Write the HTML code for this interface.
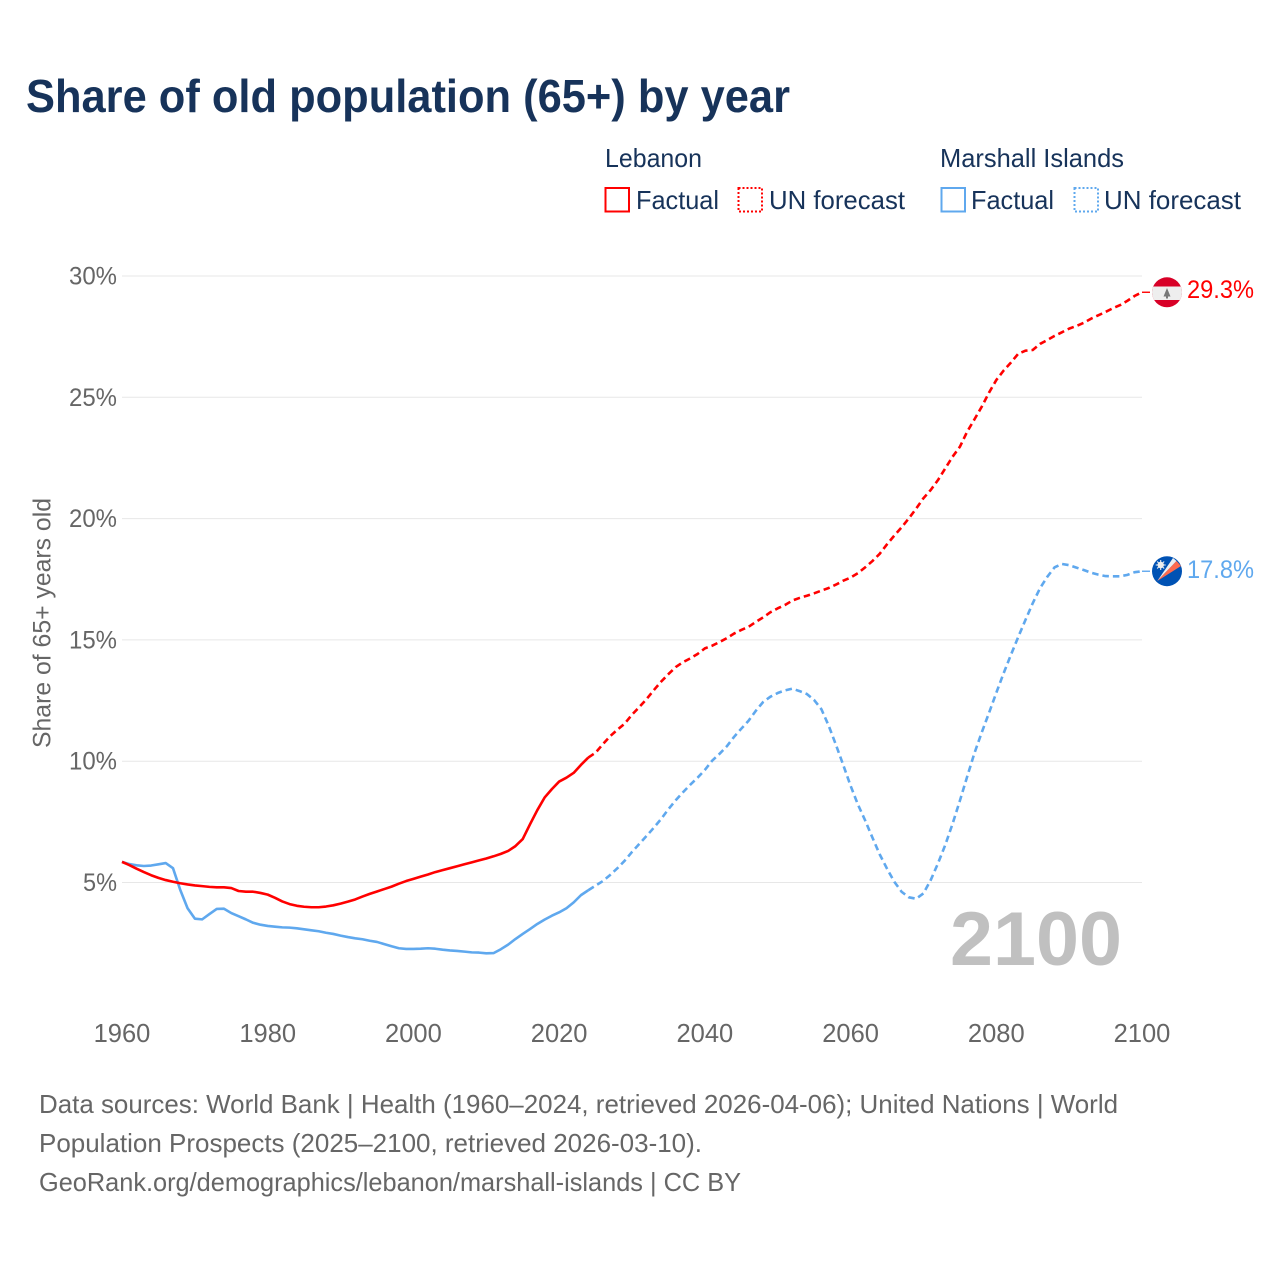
<!DOCTYPE html>
<html lang="en">
<head>
<meta charset="utf-8">
<title>Share of old population (65+) by year</title>
<style>
html,body{margin:0;padding:0;background:#fff;}
svg{display:block;}
text{font-family:"Liberation Sans",sans-serif;}
</style>
</head>
<body>
<svg id="chart" width="1280" height="1280" viewBox="0 0 1280 1280" xmlns="http://www.w3.org/2000/svg">
  <defs>
    <clipPath id="lb-clip"><circle cx="1167" cy="292.3" r="15"/></clipPath>
    <clipPath id="mh-clip"><circle cx="1167" cy="571.2" r="15"/></clipPath>
  </defs>
  <rect x="0" y="0" width="1280" height="1280" fill="#ffffff"/>

  <text x="26" y="112" font-size="46" font-weight="700" fill="#17335a" textLength="764" lengthAdjust="spacingAndGlyphs">Share of old population (65+) by year</text>

  <g font-size="26" fill="#17335a">
    <text x="605" y="167" textLength="97" lengthAdjust="spacingAndGlyphs">Lebanon</text>
    <rect x="605.5" y="188" width="23.5" height="23.5" fill="none" stroke="#ff0000" stroke-width="2"/>
    <text x="636" y="209" textLength="83" lengthAdjust="spacingAndGlyphs">Factual</text>
    <rect x="738.5" y="188" width="23.5" height="23.5" fill="none" stroke="#ff0000" stroke-width="2" stroke-dasharray="2 2"/>
    <text x="769" y="209" textLength="136" lengthAdjust="spacingAndGlyphs">UN forecast</text>
    <text x="940" y="167" textLength="184" lengthAdjust="spacingAndGlyphs">Marshall Islands</text>
    <rect x="941.5" y="188" width="23.5" height="23.5" fill="none" stroke="#5fa8ee" stroke-width="2"/>
    <text x="971" y="209" textLength="83" lengthAdjust="spacingAndGlyphs">Factual</text>
    <rect x="1074.5" y="188" width="23.5" height="23.5" fill="none" stroke="#5fa8ee" stroke-width="2" stroke-dasharray="2 2"/>
    <text x="1104" y="209" textLength="137" lengthAdjust="spacingAndGlyphs">UN forecast</text>
  </g>

  <g id="grid"></g>
  <g id="y-ticks" font-size="25" fill="#666666" text-anchor="end"></g>
  <g id="x-ticks" font-size="25.5" fill="#666666" text-anchor="middle"></g>

  <text transform="translate(50.5,748) rotate(-90)" font-size="25" fill="#666666" textLength="250" lengthAdjust="spacingAndGlyphs">Share of 65+ years old</text>

  <text x="950" y="965" font-size="76" font-weight="700" fill="#c0c0c0" textLength="172" lengthAdjust="spacingAndGlyphs">2100</text>

  <g id="series"></g>

  <g id="flag-lebanon" clip-path="url(#lb-clip)">
    <rect x="1150" y="275" width="34" height="36" fill="#d80027"/>
    <rect x="1150" y="286.5" width="34" height="13.5" fill="#eeeeee"/>
    <polygon points="1167,288 1170.5,296.5 1168,296.5 1168,298.5 1166,298.5 1166,296.5 1163.5,296.5" fill="#777777"/>
  </g>
  <g id="flag-marshall" clip-path="url(#mh-clip)">
    <rect x="1150" y="554" width="34" height="36" fill="#0052b4"/>
    <polygon points="1157.3,581 1173,558 1176.5,561" fill="#eeeeee"/>
    <polygon points="1157.3,581 1176.5,561 1181,566" fill="#ff6a4d"/>
    <circle cx="1160.7" cy="565" r="3.2" fill="#eeeeee"/>
    <path d="M1160.7 560v10M1155.7 565h10M1157.2 561.5l7 7M1164.2 561.5l-7 7" stroke="#eeeeee" stroke-width="1.1"/>
  </g>

  <g id="value-labels" font-size="25"></g>

  <g font-size="26" fill="#666666">
    <text x="39" y="1113" textLength="1079" lengthAdjust="spacingAndGlyphs">Data sources: World Bank | Health (1960–2024, retrieved 2026-04-06); United Nations | World</text>
    <text x="39" y="1152" textLength="663" lengthAdjust="spacingAndGlyphs">Population Prospects (2025–2100, retrieved 2026-03-10).</text>
    <text x="39" y="1191" textLength="702" lengthAdjust="spacingAndGlyphs">GeoRank.org/demographics/lebanon/marshall-islands | CC BY</text>
  </g>
</svg>
<script>
const factualStartYear = 1960;
const forecastStartYear = 2025;

const lebanonFactual = [5.85,5.72,5.57,5.43,5.30,5.19,5.10,5.03,4.97,4.92,4.88,4.85,4.82,4.80,4.80,4.77,4.65,4.62,4.62,4.57,4.50,4.37,4.22,4.11,4.04,4.00,3.98,3.98,4.01,4.06,4.13,4.21,4.30,4.42,4.53,4.63,4.73,4.83,4.95,5.06,5.15,5.24,5.33,5.43,5.51,5.59,5.67,5.75,5.83,5.91,5.99,6.08,6.18,6.30,6.50,6.79,7.40,7.98,8.50,8.85,9.16,9.32,9.52,9.85,10.15];

const lebanonForecast = [10.35,10.70,11.03,11.30,11.55,11.92,12.23,12.56,12.93,13.28,13.59,13.88,14.08,14.24,14.42,14.65,14.76,14.91,15.07,15.26,15.41,15.54,15.74,15.93,16.14,16.30,16.44,16.62,16.73,16.82,16.92,17.03,17.14,17.28,17.44,17.57,17.75,17.99,18.25,18.55,18.94,19.30,19.64,20.01,20.41,20.84,21.18,21.59,22.07,22.55,22.96,23.58,24.09,24.61,25.19,25.71,26.10,26.43,26.79,26.92,26.95,27.20,27.36,27.53,27.68,27.83,27.94,28.07,28.24,28.38,28.52,28.67,28.80,28.98,29.18,29.33];

const marshallFactual = [5.85,5.76,5.71,5.68,5.70,5.75,5.80,5.59,4.69,3.94,3.51,3.48,3.70,3.91,3.92,3.74,3.61,3.48,3.34,3.26,3.21,3.18,3.15,3.14,3.11,3.07,3.03,2.99,2.93,2.88,2.81,2.75,2.70,2.66,2.60,2.55,2.46,2.37,2.29,2.26,2.26,2.27,2.29,2.27,2.23,2.20,2.18,2.15,2.12,2.11,2.08,2.09,2.25,2.44,2.67,2.88,3.08,3.29,3.47,3.63,3.77,3.94,4.18,4.48,4.68];

const marshallForecast = [4.87,5.06,5.31,5.59,5.90,6.26,6.59,6.92,7.26,7.62,8.02,8.39,8.72,9.03,9.32,9.64,10.02,10.30,10.61,11.00,11.34,11.67,12.08,12.44,12.66,12.81,12.92,12.99,12.89,12.77,12.52,12.14,11.46,10.67,9.84,8.99,8.22,7.56,6.85,6.16,5.57,5.03,4.62,4.39,4.33,4.55,5.10,5.79,6.55,7.42,8.37,9.36,10.33,11.18,11.99,12.82,13.62,14.38,15.11,15.82,16.51,17.13,17.60,17.99,18.13,18.08,17.98,17.88,17.77,17.69,17.63,17.62,17.62,17.68,17.79,17.83];

const yTickValues = [5,10,15,20,25,30];
const yTickLabels = ['5%','10%','15%','20%','25%','30%'];
const xTickValues = [1960,1980,2000,2020,2040,2060,2080,2100];
const xTickLabels = ['1960','1980','2000','2020','2040','2060','2080','2100'];

const lebanonLabel = '29.3%';
const marshallLabel = '17.8%';

const RED = '#ff0000';
const BLUE = '#5fa8ee';
const SVG_NS = 'http://www.w3.org/2000/svg';

function xScale(year) { return 122 + (year - 1960) * (1020 / 140); }
function yScale(value) { return 1003.8 - value * 24.26; }

function makeEl(tag, parent) {
  const el = document.createElementNS(SVG_NS, tag);
  parent.appendChild(el);
  return el;
}

const gridGroup = document.getElementById('grid');
const yTickGroup = document.getElementById('y-ticks');
yTickValues.forEach(function (v, i) {
  const line = makeEl('line', gridGroup);
  
  
  line.setAttribute('x1', xScale(1960));
  line.setAttribute('x2', xScale(2100));
  line.setAttribute('y1', yScale(v));
  line.setAttribute('y2', yScale(v));
  line.setAttribute('stroke', '#e7e7e7');
  line.setAttribute('stroke-width', '1');
  const label = makeEl('text', yTickGroup);
  
  
  label.setAttribute('x', 117);
  label.setAttribute('y', yScale(v) + 8.5);
  label.setAttribute('textLength', yTickLabels[i].length === 3 ? '48' : '34');
  label.setAttribute('lengthAdjust', 'spacingAndGlyphs');
  label.textContent = yTickLabels[i];
});

const xTickGroup = document.getElementById('x-ticks');
xTickValues.forEach(function (year, i) {
  const label = makeEl('text', xTickGroup);
  
  
  label.setAttribute('x', xScale(year));
  label.setAttribute('y', 1042);
  label.textContent = xTickLabels[i];
});

function pointsFor(values, startYear) {
  return values.map(function (v, i) {
    return xScale(startYear + i).toFixed(2) + ',' + yScale(v).toFixed(2);
  });
}

const seriesGroup = document.getElementById('series');

function drawPath(pts, color, dashed) {
  const path = makeEl('path', seriesGroup);
  path.setAttribute('d', 'M' + pts.join('L'));
  path.setAttribute('fill', 'none');
  path.setAttribute('stroke', color);
  path.setAttribute('stroke-width', '2.6');
  path.setAttribute('stroke-linejoin', 'round');
  if (dashed) {
    path.setAttribute('stroke-dasharray', '6.5 4');
  }
  return path;
}

const lastYear = forecastStartYear + lebanonForecast.length - 1;

const marshallForecastPath = drawPath(
  pointsFor(marshallFactual.slice(-1), forecastStartYear - 1).concat(pointsFor(marshallForecast, forecastStartYear)),
  BLUE, true);



const lebanonForecastPath = drawPath(
  pointsFor(lebanonFactual.slice(-1), forecastStartYear - 1).concat(pointsFor(lebanonForecast, forecastStartYear)),
  RED, true);



const marshallFactualPath = drawPath(pointsFor(marshallFactual, factualStartYear), BLUE, false);



const lebanonFactualPath = drawPath(pointsFor(lebanonFactual, factualStartYear), RED, false);



function drawLeader(value, color) {
  const line = makeEl('line', seriesGroup);
  line.setAttribute('x1', xScale(lastYear));
  line.setAttribute('x2', 1150);
  line.setAttribute('y1', yScale(value));
  line.setAttribute('y2', yScale(value));
  line.setAttribute('stroke', color);
  line.setAttribute('stroke-width', '1.4');
  return line;
}

const lebanonLeader = drawLeader(lebanonForecast[lebanonForecast.length - 1], RED);



const marshallLeader = drawLeader(marshallForecast[marshallForecast.length - 1], BLUE);



const labelGroup = document.getElementById('value-labels');

const lebanonValueLabel = makeEl('text', labelGroup);


lebanonValueLabel.setAttribute('x', 1187);
lebanonValueLabel.setAttribute('y', yScale(lebanonForecast[lebanonForecast.length - 1]) + 5.5);
lebanonValueLabel.setAttribute('fill', RED);
lebanonValueLabel.setAttribute('textLength', '67');
lebanonValueLabel.setAttribute('lengthAdjust', 'spacingAndGlyphs');
lebanonValueLabel.textContent = lebanonLabel;

const marshallValueLabel = makeEl('text', labelGroup);


marshallValueLabel.setAttribute('x', 1187);
marshallValueLabel.setAttribute('y', yScale(marshallForecast[marshallForecast.length - 1]) + 7);
marshallValueLabel.setAttribute('fill', BLUE);
marshallValueLabel.setAttribute('textLength', '67');
marshallValueLabel.setAttribute('lengthAdjust', 'spacingAndGlyphs');
marshallValueLabel.textContent = marshallLabel;
</script>
</body>
</html>
